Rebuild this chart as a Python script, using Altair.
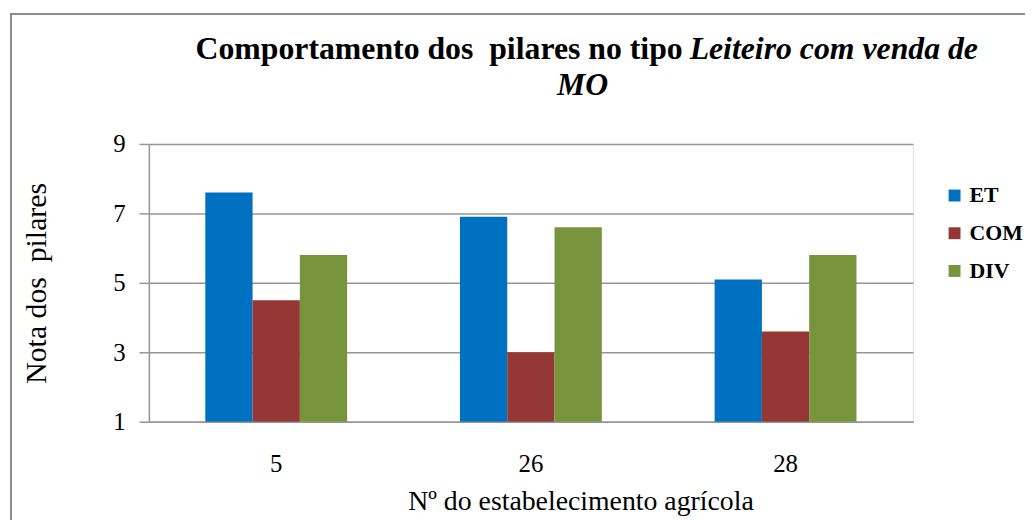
import altair as alt
import pandas as pd

# ---- data ----
establishments = ["5", "26", "28"]
series = ["ET", "COM", "DIV"]
et_values = [7.6, 6.9, 5.1]
com_values = [4.5, 3.0, 3.6]
div_values = [5.8, 6.6, 5.8]
colors = ["#0070C0", "#953735", "#77933C"]
y_ticks = [1, 3, 5, 7, 9]

title_plain = ["Comportamento dos \u00a0pilares no tipo"]
title_italic = ["Leiteiro com venda de"]
title_line2 = ["MO"]
y_title = "Nota dos \u00a0pilares"
x_title = "Nº do estabelecimento agrícola"

rows = []
for i, est in enumerate(establishments):
    for s, vals in zip(series, [et_values, com_values, div_values]):
        rows.append({"estab": est, "serie": s, "nota": vals[i]})
df = pd.DataFrame(rows)

FONT = "Liberation Serif"
GRAY = "#969696"

bars = alt.Chart(df).mark_bar().encode(
    x=alt.X("estab:N", sort=establishments,
            scale=alt.Scale(paddingInner=0.443, paddingOuter=0.2215),
            axis=alt.Axis(title=x_title, labelAngle=0, ticks=False,
                          labelPadding=30, labelFontSize=25,
                          labelFont=FONT, titleFont=FONT,
                          labelColor="black", titleColor="black",
                          titleFontSize=28, titleFontWeight="normal",
                          titleBaseline="alphabetic", titleY=88,
                          titleX=435,
                          domainColor=GRAY, domainWidth=1.5, grid=False)),
    xOffset=alt.XOffset("serie:N", sort=series,
                        scale=alt.Scale(paddingInner=0, paddingOuter=0)),
    y=alt.Y("nota:Q", scale=alt.Scale(domain=[1, 9], nice=False, zero=False),
            axis=alt.Axis(title=y_title, values=y_ticks, tickSize=10,
                          tickColor=GRAY, tickWidth=1.5, labelPadding=14,
                          labelFont=FONT, titleFont=FONT,
                          labelColor="black", titleColor="black",
                          labelFontSize=25, titleFontSize=30,
                          titleFontWeight="normal", titleX=-104,
                          titleBaseline="alphabetic",
                          domainColor=GRAY, domainWidth=1.5,
                          gridColor=GRAY, gridWidth=1.5)),
    y2=alt.Y2(datum=1),
    color=alt.Color("serie:N", sort=series,
                    scale=alt.Scale(domain=series, range=colors),
                    legend=alt.Legend(title=None, orient="none",
                                      legendX=801, legendY=41,
                                      symbolType="square", symbolSize=144,
                                      symbolStrokeWidth=0, labelFontSize=22,
                                      labelFontWeight="bold", labelFont=FONT,
                                      labelColor="black",
                                      labelOffset=4, rowPadding=16,
                                      padding=0)),
)

t1 = alt.Chart(pd.DataFrame({"t": title_plain})).mark_text(
    font=FONT, fontSize=32, fontWeight="bold", align="right",
    baseline="alphabetic", color="black"
).encode(x=alt.value(538), y=alt.value(-86), text="t:N")

t2 = alt.Chart(pd.DataFrame({"t": title_italic})).mark_text(
    font=FONT, fontSize=32, fontWeight="bold", fontStyle="italic",
    align="left", baseline="alphabetic", color="black"
).encode(x=alt.value(545), y=alt.value(-86), text="t:N")

t3 = alt.Chart(pd.DataFrame({"t": title_line2})).mark_text(
    font=FONT, fontSize=32, fontWeight="bold", fontStyle="italic",
    align="center", baseline="alphabetic", color="black"
).encode(x=alt.value(437), y=alt.value(-49), text="t:N")

border = alt.Chart(pd.DataFrame({"b": [0]})).mark_rect(
    fill="transparent", stroke="#8c8c8c", strokeWidth=2
).encode(x=alt.value(-139), x2=alt.value(900),
         y=alt.value(-131), y2=alt.value(400))

chart = alt.layer(border, bars, t1, t2, t3).properties(
    width=770, height=280,
    autosize=alt.AutoSizeParams(type="none"),
    padding={"left": 142, "top": 135, "right": 113, "bottom": 97},
).configure_view(stroke=None).configure(background="white")

chart.save("out.html", embed_options={"renderer": "svg", "actions": False})
